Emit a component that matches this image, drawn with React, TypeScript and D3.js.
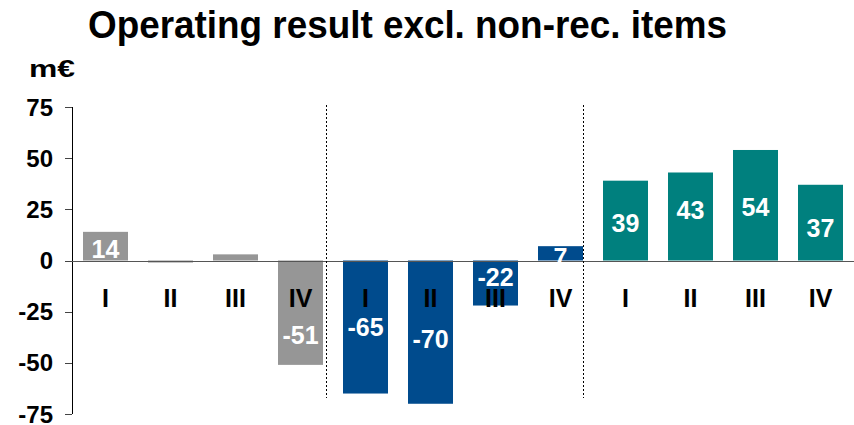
import React from "react";
import * as d3 from "d3";

const categories = ["I", "II", "III", "IV", "I", "II", "III", "IV", "I", "II", "III", "IV"];
const values = [14, -1, 3, -51, -65, -70, -22, 7, 39, 43, 54, 37];
const groups = [0, 0, 0, 0, 1, 1, 1, 1, 2, 2, 2, 2];
const showLabel = [true, false, false, true, true, true, true, true, true, true, true, true];
const yTicks = [75, 50, 25, 0, -25, -50, -75];
const titleText = "Operating result excl. non-rec. items";
const unitText = "m€";

// label vertical nudges (px) relative to bar middle
const labelNudge = [3, 0, 0, 22, 0, 7, -6, 4, 2, -6, 2, 5];
const groupColors = ["#969696", "#004b8d", "#00807e"];

const W = 854;
const H = 425;
const FONT = "'Liberation Sans', Arial, sans-serif";

export default function App() {
  const idx = values.map((_, i) => String(i));
  const x = d3.scaleBand<string>().domain(idx).range([73, 853]).paddingInner(20 / 65).paddingOuter(10 / 65);
  const y = d3.scaleLinear().domain([-75, 75]).range([414, 107]);
  const bw = x.bandwidth();
  const sep1 = (x("3")! + bw) + 3;
  const sep2 = x("7")! + bw;

  return (
    <svg width={W} height={H} style={{ position: "absolute", left: 0, top: 0, background: "#fff" }} fontFamily={FONT}>
      <text x={88} y={38} fontSize={38} fontWeight="bold" fill="#000" textLength={639} lengthAdjust="spacingAndGlyphs">
        {titleText}
      </text>
      <text x={29} y={77} fontSize={24} fontWeight="bold" fill="#000" textLength={46} lengthAdjust="spacingAndGlyphs">{unitText}</text>

      {/* bars */}
      {values.map((v, i) => (
        <rect key={"b" + i} x={x(String(i))} y={Math.min(y(v), y(0))} width={bw} height={Math.abs(y(v) - y(0))} fill={groupColors[groups[i]]} />
      ))}

      {/* axis */}
      <line x1={72.5} x2={72.5} y1={y(75)} y2={y(-75)} stroke="#000" strokeWidth={1} />
      {yTicks.map((t) => (
        <g key={"t" + t}>
          <line x1={65} x2={72} y1={Math.round(y(t)) + 0.5} y2={Math.round(y(t)) + 0.5} stroke="#444" strokeWidth={1} />
          <text x={53} y={y(t)} dy="0.36em" textAnchor="end" fontSize={24} fontWeight="bold" fill="#000">{t}</text>
        </g>
      ))}
      <line x1={72} x2={854} y1={Math.round(y(0)) + 0.5} y2={Math.round(y(0)) + 0.5} stroke="#555" strokeWidth={1} />

      {/* separators */}
      {[sep1, sep2].map((sx, k) => (
        <line key={"s" + k} x1={Math.round(sx) + 0.5} x2={Math.round(sx) + 0.5} y1={105} y2={398} stroke="#000" strokeWidth={1} strokeDasharray="2,2" />
      ))}

      {/* category labels */}
      {categories.map((c, i) => (
        <text key={"c" + i} x={x(String(i))! + bw / 2} y={298} dy="0.36em" textAnchor="middle" fontSize={25} fontWeight="bold" fill="#000">{c}</text>
      ))}

      {/* value labels */}
      {values.map((v, i) =>
        showLabel[i] ? (
          <text key={"v" + i} x={x(String(i))! + bw / 2} y={(y(v) + y(0)) / 2 + labelNudge[i]} dy="0.36em" textAnchor="middle" fontSize={25} fontWeight="bold" fill="#fff">{v}</text>
        ) : null
      )}
    </svg>
  );
}
